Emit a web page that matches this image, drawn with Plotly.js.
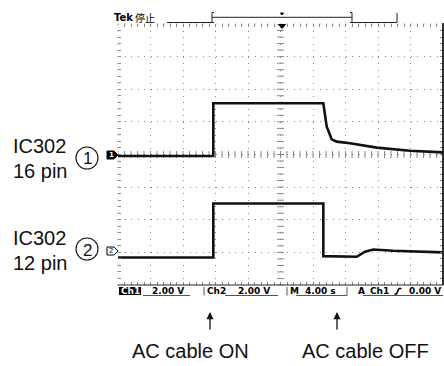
<!DOCTYPE html>
<html>
<head>
<meta charset="utf-8">
<script src="https://cdn.plot.ly/plotly-3.0.1.min.js"></script>
<style>
html,body{margin:0;padding:0;background:#fff;}
#chart{width:444px;height:366px;}
</style>
</head>
<body>
<div id="chart"></div>
<script>
// ---- data (time in s, voltage in V) ----
const timeCh1 = [0, 11.73, 11.73, 25.27, 25.69, 26.30, 26.92, 28.55, 31.84, 35.94, 40];
const voltCh1 = [-0.09, -0.09, 3.14, 3.14, 1.71, 0.93, 0.79, 0.69, 0.42, 0.23, 0.13];
const timeCh2 = [0, 11.73, 11.73, 25.27, 25.27, 29.38, 30.40, 31.42, 33.85, 40];
const voltCh2 = [-0.31, -0.31, 3.00, 3.00, -0.23, -0.27, 0.04, 0.18, 0.10, 0.00];

const leftLabels = [["IC302", "16 pin"], ["IC302", "12 pin"]];
const statusCh1 = ["Ch1", "2.00 V"];
const statusCh2 = ["Ch2", "2.00 V"];
const statusTime = ["M", "4.00 s"];
const statusTrig = ["A", "Ch1", "0.00 V"];
const eventLabels = ["AC cable ON", "AC cable OFF"];

// ---- layout helpers (pixel -> paper) ----
const L = 118, R = 443, T = 24, B = 285;
const px = x => (x - L) / (R - L);
const py = y => (B - y) / (B - T);

// centre-line crossbar marks (decoration)
const crossX = [], crossXy = [];
for (let i = 0; i <= 50; i++) { crossX.push(i * 0.8); crossXy.push(0); }
const crossY = [], crossYx = [];
for (let i = 0; i <= 40; i++) { crossY.push(-8 + i * 0.4); crossYx.push(20); }

const data = [
  {x: crossX, y: crossXy, type: 'scatter', mode: 'markers', hoverinfo: 'skip',
   marker: {symbol: 'line-ns', size: 5, line: {width: 1, color: '#888'}}},
  {x: crossYx, y: crossY, type: 'scatter', mode: 'markers', hoverinfo: 'skip',
   marker: {symbol: 'line-ew', size: 5, line: {width: 1, color: '#888'}}},
  {x: timeCh1, y: voltCh1, type: 'scatter', mode: 'lines', yaxis: 'y',
   line: {color: '#111', width: 2.6}},
  {x: timeCh2, y: voltCh2, type: 'scatter', mode: 'lines', yaxis: 'y2',
   line: {color: '#111', width: 2.6}}
];

const mono = {family: 'DejaVu Sans', size: 9, color: '#000'};
const arial = {family: 'Liberation Sans, Arial, sans-serif', size: 20, color: '#111'};

const ann = [];
function txt(t, x, y, font, xanchor) {
  ann.push({text: t, x: px(x), y: py(y), xref: 'paper', yref: 'paper',
    xanchor: xanchor || 'left', yanchor: 'middle', showarrow: false, font: font});
}
// top status
txt('<b>Tek</b>', 112, 17, {family: 'DejaVu Sans', size: 10, color: '#000'});
txt('停止', 133, 17, {family: 'Noto Sans CJK JP', size: 10, color: '#000'});
// left labels
txt(leftLabels[0][0], 11, 146, arial);
txt(leftLabels[0][1], 11, 171, arial);
txt(leftLabels[1][0], 11, 238, arial);
txt(leftLabels[1][1], 11, 263, arial);
// circled digits
txt('1', 87, 159, {family: 'Liberation Sans', size: 17, color: '#111'}, 'center');
txt('2', 87, 250, {family: 'Liberation Sans', size: 17, color: '#111'}, 'center');
// channel markers
txt('<b>1</b>', 111, 155, {family: 'DejaVu Sans', size: 7, color: '#fff'}, 'center');
txt('2', 111, 251, {family: 'DejaVu Sans', size: 7, color: '#000'}, 'center');
// bottom status bar
txt('<b>' + statusCh1[0] + '</b>', 130, 291, {family: 'DejaVu Sans', size: 9, color: '#fff'}, 'center');
txt('<b>' + statusCh1[1] + '</b>', 150, 291, mono);
txt('<b>' + statusCh2[0] + '</b>', 205, 291, mono);
txt('<b>' + statusCh2[1] + '</b>', 236, 291, mono);
txt('<b>' + statusTime[0] + '</b>', 288, 291, mono);
txt('<b>' + statusTime[1] + '</b>', 303, 291, mono);
txt('<b>' + statusTrig[0] + '</b>', 356, 291, mono);
txt('<b>' + statusTrig[1] + '</b>', 368, 291, mono);
txt('<b>' + statusTrig[2] + '</b>', 443, 291, mono, 'right');
// event labels
txt(eventLabels[0], 130, 351, arial);
txt(eventLabels[1], 300, 351, arial);
// arrows
[210, 337].forEach(x => {
  ann.push({text: '', x: px(x), y: py(312), xref: 'paper', yref: 'paper',
    showarrow: true, ax: 0, ay: 19, arrowhead: 2, arrowsize: 1.1, arrowwidth: 1.3, arrowcolor: '#111'});
});

const shapes = [];
function line(x0, y0, x1, y1, opts) {
  shapes.push(Object.assign({type: 'line', xref: 'paper', yref: 'paper',
    x0: px(x0), y0: py(y0), x1: px(x1), y1: py(y1), line: {color: '#222', width: 1}}, opts || {}));
}
function path(pts, fill, lc) {
  let d = pts.map((p, i) => (i ? 'L' : 'M') + px(p[0]) + ',' + py(p[1])).join(' ') + ' Z';
  shapes.push({type: 'path', xref: 'paper', yref: 'paper', path: d,
    fillcolor: fill, line: {color: lc || '#000', width: 1}});
}
// frame
line(L, T, R, T, {line: {color: '#888', width: 1, dash: '1px,5.5px'}});
line(L, T, L, B, {line: {color: '#888', width: 1, dash: '1px,5.5px'}});
line(R, T - 1, R, B, {line: {color: '#000', width: 1.6}});
line(L, B, R, B, {line: {color: '#222', width: 1}});
// record bar at top
line(167, 22.5, 212, 22.5);
line(352, 22.5, 397, 22.5);
line(397, 13, 397, 22.5);
line(212, 17.3, 352, 17.3);
line(212, 12.5, 212, 22.5);
line(212, 12.5, 214, 12.5);
line(212, 22.5, 214, 22.5);
line(352, 12.5, 352, 22.5);
line(350, 12.5, 352, 12.5);
line(350, 22.5, 352, 22.5);
path([[280.5, 13], [283.5, 13], [282, 15]], '#000');
// trigger position marker
path([[278.5, 24.5], [285.5, 24.5], [282, 28.5]], '#000');
// channel ground markers
path([[107, 151], [114, 151], [118, 155], [114, 159], [107, 159]], '#000');
path([[107, 247], [114, 247], [118, 251], [114, 255], [107, 255]], '#fff');
// circles
[[87, 158], [87, 249]].forEach(c => {
  shapes.push({type: 'circle', xref: 'paper', yref: 'paper',
    x0: px(c[0] - 11), x1: px(c[0] + 11), y0: py(c[1] - 11), y1: py(c[1] + 11),
    line: {color: '#111', width: 1.1}});
});
// status bar boxes & underlines
shapes.push({type: 'rect', xref: 'paper', yref: 'paper', x0: px(119), x1: px(141),
  y0: py(287), y1: py(295), fillcolor: '#000', line: {width: 0}});
line(143, 295.5, 190, 295.5, {line: {color: '#555', width: 1}});
line(204, 287, 204, 295.5, {line: {color: '#555', width: 1}});
line(225, 295.5, 278, 295.5, {line: {color: '#555', width: 1}});
line(287, 287, 287, 295.5, {line: {color: '#555', width: 1}});
line(296, 295.5, 347, 295.5, {line: {color: '#555', width: 1}});
line(347, 287, 347, 295.5, {line: {color: '#555', width: 1}});
line(363, 295.5, 443, 295.5, {line: {color: '#555', width: 1}});
// rising-edge symbol
shapes.push({type: 'path', xref: 'paper', yref: 'paper',
  path: 'M' + px(394.5) + ',' + py(294) + ' L' + px(396.5) + ',' + py(294) +
        ' L' + px(399) + ',' + py(288.5) + ' L' + px(401.5) + ',' + py(288.5),
  line: {color: '#000', width: 1.6}});

const layout = {
  width: 444, height: 366,
  margin: {l: L, r: 444 - R, t: T, b: 366 - B, pad: 0},
  paper_bgcolor: '#fff', plot_bgcolor: '#fff',
  showlegend: false,
  xaxis: {range: [0, 40], tick0: 0, dtick: 4, showticklabels: false,
    showgrid: true, gridcolor: '#888', gridwidth: 1, griddash: '1px,5.5px',
    zeroline: false, showline: false, ticks: 'inside', ticklen: 3, tickcolor: '#888',
    mirror: 'allticks',
    minor: {dtick: 0.8, ticks: 'inside', ticklen: 3, tickcolor: '#888', showgrid: false},
    fixedrange: true},
  yaxis: {range: [-8, 8], tick0: 0, dtick: 2, showticklabels: false,
    showgrid: true, gridcolor: '#888', gridwidth: 1, griddash: '1px,5.5px',
    zeroline: false, showline: false, ticks: 'inside', ticklen: 3, tickcolor: '#888',
    mirror: 'allticks',
    minor: {dtick: 0.4, ticks: 'inside', ticklen: 3, tickcolor: '#888', showgrid: false},
    fixedrange: true},
  yaxis2: {range: [-2, 14], overlaying: 'y', visible: false, fixedrange: true},
  annotations: ann,
  shapes: shapes
};

Plotly.newPlot('chart', data, layout, {staticPlot: true, displayModeBar: false});
</script>
</body>
</html>
